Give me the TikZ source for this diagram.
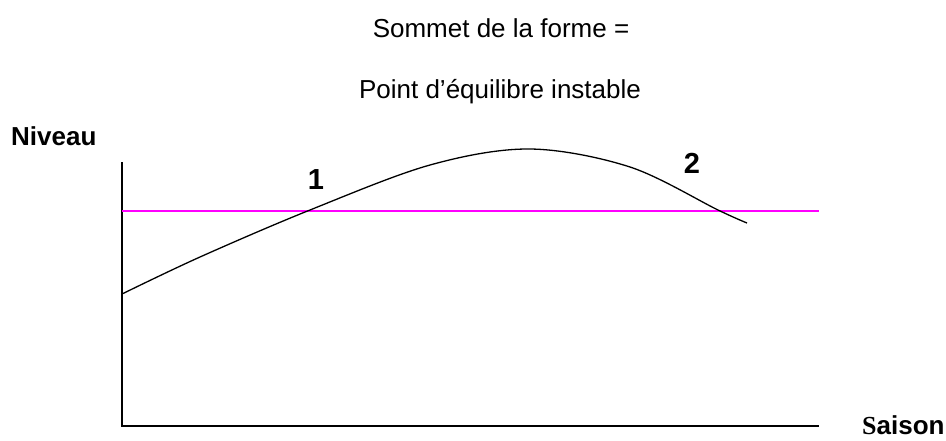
\documentclass[tikz,border=0pt]{standalone}
\usepackage{fontspec}
\setmainfont{Liberation Sans}
\newfontfamily\timesfont{Liberation Serif}
\usepackage{xcolor}
\usepackage{tikz}
\definecolor{ink}{HTML}{000000}
\definecolor{seuil}{HTML}{FF00FF}

\begin{document}
\begin{tikzpicture}[
  x=1pt, y=-1pt,
  label/.style={inner sep=0pt, font=\fontsize{26}{30}\selectfont},
  tag/.style={label, font=\fontsize{26}{30}\selectfont\bfseries},
  num/.style={label, font=\fontsize{29}{32}\selectfont\bfseries},
  axis/.style={draw=ink, line width=1.4pt},
  courbe/.style={draw=ink, line width=1.3pt},
]
\useasboundingbox (0,0) rectangle (946,440);

% titre
\node[label] (titre)  at (501,28) {Sommet de la forme =};
\node[label] (sous)   at (500,92) {Point d’équilibre instable};

% axes
\coordinate (haut)   at (122,162);
\coordinate (orig)   at (122,426);
\coordinate (droite) at (819,426);
\draw[axis] (haut) -- (orig) -- (droite);
\node[tag, anchor=west] (niveau) at (11,136) {Niveau};
\node[tag, anchor=base west] (saison) at (862,434) {{\timesfont S}aison};

% seuil
\coordinate (s0) at (122,210.5);
\coordinate (s1) at (819,210.5);
\draw[seuil, line width=2pt] (s0) -- (s1);

% forme
\draw[courbe] plot[smooth, tension=0.55] coordinates
  {(122,294) (200,257) (310,210) (430,165) (530,149) (630,167) (718,210) (747,223)};

\node[num] (un)   at (316,180) {1};
\node[num] (deux) at (692,163) {2};
\end{tikzpicture}
\end{document}
